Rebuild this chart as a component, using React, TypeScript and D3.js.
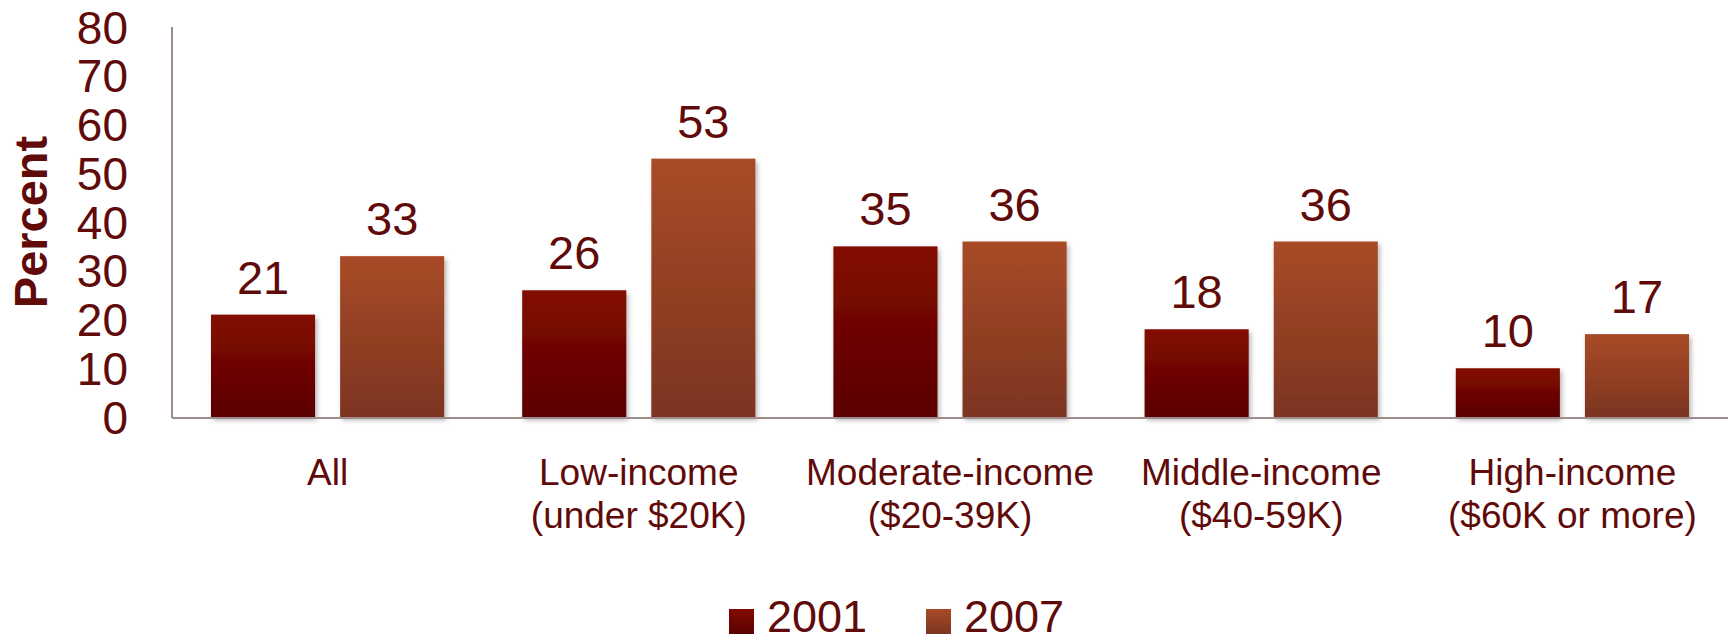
import React from "react";
import * as d3 from "d3";

const categories: string[][] = [
  ["All"],
  ["Low-income", "(under $20K)"],
  ["Moderate-income", "($20-39K)"],
  ["Middle-income", "($40-59K)"],
  ["High-income", "($60K or more)"],
];
const series = ["2001", "2007"];
const values2001 = [21, 26, 35, 18, 10];
const values2007 = [33, 53, 36, 36, 17];
const yTicks = [0, 10, 20, 30, 40, 50, 60, 70, 80];

const W = 1728;
const H = 642;
const left = 172;
const right = 1728;
const top = 27;
const bottom = 417;
const TEXT = "#600a0a";
const FONT = "'Liberation Sans', Arial, sans-serif";

export default function App() {
  const keys = categories.map((c) => c.join(" "));
  const x = d3.scaleBand<string>().domain(keys).range([left, right]).padding(0);
  const xs = d3
    .scaleBand<string>()
    .domain(series)
    .range([0, x.bandwidth()])
    .paddingInner(0.194)
    .paddingOuter(0.302);
  const y = d3.scaleLinear().domain([0, 80]).range([bottom, top]);
  const data = [values2001, values2007];
  const fills = ["url(#g2001)", "url(#g2007)"];

  return (
    <svg
      width={W}
      height={H}
      style={{ position: "absolute", left: 0, top: 0, background: "#fff" }}
      fontFamily={FONT}
    >
      <defs>
        <linearGradient id="g2001" x1="0" y1="0" x2="0" y2="1">
          <stop offset="0" stopColor="#830a00" />
          <stop offset="1" stopColor="#5a0101" />
        </linearGradient>
        <linearGradient id="g2007" x1="0" y1="0" x2="0" y2="1">
          <stop offset="0" stopColor="#a84b28" />
          <stop offset="1" stopColor="#7c3420" />
        </linearGradient>
        <filter id="shadow" x="-20%" y="-20%" width="140%" height="140%">
          <feDropShadow dx="2" dy="3" stdDeviation="2.5" floodColor="#000" floodOpacity="0.3" />
        </filter>
      </defs>

      {/* Y axis label */}
      <text
        transform={`translate(${47},${(top + bottom) / 2}) rotate(-90)`}
        textAnchor="middle"
        fontSize={47}
        fontWeight="bold"
        fill={TEXT}
      >
        Percent
      </text>

      {/* Y tick labels */}
      {yTicks.map((t) => (
        <text
          key={t}
          x={128}
          y={y(t)}
          dy="0.36em"
          textAnchor="end"
          fontSize={46}
          fill={TEXT}
        >
          {t}
        </text>
      ))}

      {/* Bars */}
      {keys.map((k, i) =>
        series.map((s, j) => {
          const v = data[j][i];
          const bx = (x(k) as number) + (xs(s) as number);
          return (
            <g key={k + s}>
              <rect
                x={bx}
                y={y(v)}
                width={xs.bandwidth()}
                height={bottom - y(v)}
                fill={fills[j]}
                filter="url(#shadow)"
              />
              <text
                x={bx + xs.bandwidth() / 2}
                y={y(v) - 21}
                textAnchor="middle"
                fontSize={47}
                fill={TEXT}
              >
                {v}
              </text>
            </g>
          );
        })
      )}

      {/* Axes lines */}
      <line x1={left} x2={left} y1={top} y2={bottom + 1} stroke="#9e8c8c" strokeWidth={2} />
      <line x1={left} x2={right} y1={bottom + 1} y2={bottom + 1} stroke="#9e8c8c" strokeWidth={2} />

      {/* Category labels */}
      {categories.map((lines, i) => (
        <text
          key={i}
          x={(x(keys[i]) as number) + x.bandwidth() / 2}
          y={485}
          textAnchor="middle"
          fontSize={37}
          fill={TEXT}
        >
          {lines.map((l, li) => (
            <tspan key={li} x={(x(keys[i]) as number) + x.bandwidth() / 2} dy={li === 0 ? 0 : 43}>
              {l}
            </tspan>
          ))}
        </text>
      ))}

      {/* Legend */}
      {series.map((s, j) => {
        const lx = [729, 926][j];
        return (
          <g key={s}>
            <rect x={lx} y={609} width={25} height={25} fill={fills[j]} />
            <text x={lx + 38} y={632} fontSize={45} fill={TEXT}>
              {s}
            </text>
          </g>
        );
      })}
    </svg>
  );
}
